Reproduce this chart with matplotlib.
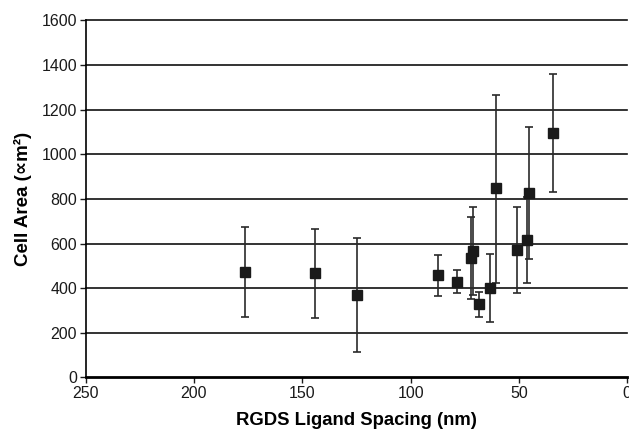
import numpy as np
import matplotlib.pyplot as plt

plt.rcParams['font.family'] = ['Liberation Sans', 'DejaVu Sans']

# ligand spacing (nm), mean cell area and error bar ends
spacing = [176.2, 143.9, 124.7, 87.5, 78.8, 72.2, 71.4, 68.3, 63.3, 60.6, 50.9, 46.3, 45.2, 34.4]
area = [473, 466, 368, 459, 429, 534, 568, 327, 402, 848, 571, 614, 826, 1097]
err_top = [675, 664, 623, 548, 480, 717, 764, 384, 553, 1266, 764, 807, 1121, 1359]
err_bot = [270, 266, 112, 366, 377, 350, 369, 270, 249, 423, 378, 424, 529, 832]

area = np.array(area)
yerr = [area - np.array(err_bot), np.array(err_top) - area]

fig = plt.figure(figsize=(6.29, 4.33), dpi=100)
ax = fig.add_axes([0.136, 0.1286, 0.8613, 0.8241])

for y in range(200, 1601, 200):
    ax.axhline(y, color='#111111', lw=1.2, zorder=1, clip_on=False)

ax.errorbar(spacing, area, yerr=yerr, fmt='s', color='#1a1a1a', ms=6.5,
            ecolor='#2a2a2a', elinewidth=1.2, capsize=3, capthick=1.2, zorder=3)

ax.set_xlim(250, 0)
ax.set_ylim(0, 1600)
ax.set_xticks(range(250, -1, -50))
ax.set_yticks(range(0, 1601, 200))

for s in ['top', 'right']:
    ax.spines[s].set_visible(False)
ax.spines['left'].set_linewidth(1.2)
ax.spines['bottom'].set_linewidth(2)

ax.tick_params(direction='out', length=4, width=1, labelsize=11.5, pad=2, colors='#1a1a1a')

ax.set_xlabel('RGDS Ligand Spacing (nm)', fontsize=13.3, fontweight='bold', labelpad=8)
ax.set_ylabel('Cell Area (\u221dm\u00b2)', fontsize=13.5, fontweight='bold', labelpad=7)

fig.savefig('out.png', dpi=100)
